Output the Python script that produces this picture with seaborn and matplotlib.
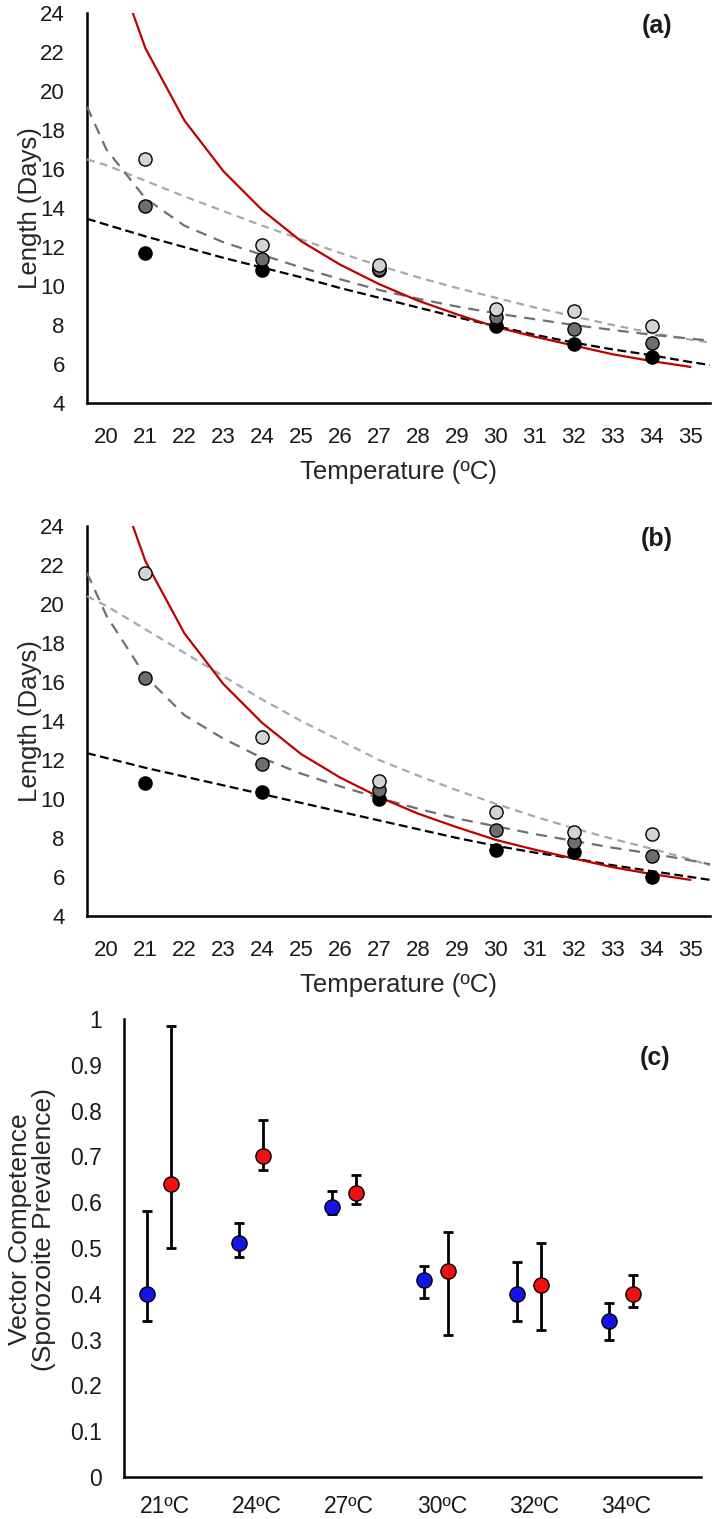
import matplotlib
matplotlib.use("Agg")
import matplotlib.pyplot as plt
import seaborn as sns

# measured temperatures (points)
temps = [21, 24, 27, 30, 32, 34]

# panel (a) observed lengths (days)
a_light = [16.5, 12.1, 11.1, 8.8, 8.7, 7.95]
a_dark = [14.1, 11.4, 10.9, 8.4, 7.8, 7.1]
a_black = [11.7, 10.8, 10.8, 7.95, 7.05, 6.35]

# panel (b) observed lengths (days)
b_light = [21.6, 13.2, 10.9, 9.35, 8.3, 8.2]
b_dark = [16.2, 11.8, 10.45, 8.4, 7.8, 7.1]
b_black = [10.8, 10.35, 10.0, 7.4, 7.3, 6.0]

# trend lines
fit_x = [19.5, 20, 21, 22, 23, 24, 25, 26, 27, 28, 29, 30, 31, 32, 33, 34, 35, 35.5]
a_fit_light = [16.5, 16.2, 15.4, 14.6, 13.85, 13.1, 12.4, 11.7, 11.05, 10.45, 9.9, 9.4, 8.9, 8.45, 8.0, 7.6, 7.25, 7.1]
a_fit_dark = [19.2, 17.0, 14.5, 13.1, 12.25, 11.6, 10.95, 10.35, 9.8, 9.35, 8.95, 8.6, 8.3, 8.0, 7.75, 7.5, 7.3, 7.2]
a_fit_black = [13.45, 13.15, 12.55, 12.0, 11.45, 10.95, 10.45, 9.9, 9.4, 8.9, 8.4, 7.95, 7.5, 7.1, 6.75, 6.45, 6.1, 5.95]
b_fit_light = [20.4, 19.9, 18.7, 17.5, 16.3, 15.1, 14.0, 13.0, 12.0, 11.2, 10.45, 9.75, 9.1, 8.5, 7.95, 7.45, 6.9, 6.6]
b_fit_dark = [21.6, 19.4, 16.3, 14.3, 13.1, 12.1, 11.3, 10.65, 10.05, 9.5, 9.0, 8.6, 8.2, 7.85, 7.5, 7.2, 6.85, 6.65]
b_fit_black = [12.35, 12.1, 11.6, 11.15, 10.7, 10.25, 9.8, 9.35, 8.9, 8.45, 8.0, 7.6, 7.25, 6.95, 6.6, 6.3, 6.0, 5.85]

# red reference curve
red_x = [20, 21, 22, 23, 24, 25, 26, 27, 28, 29, 30, 31, 32, 33, 34, 35]
red_days = [27.8, 22.2, 18.5, 15.9, 13.9, 12.3, 11.1, 10.1, 9.25, 8.55, 7.9, 7.4, 6.95, 6.5, 6.15, 5.85]

# panel (c) vector competence
c_labels = ["21ºC", "24ºC", "27ºC", "30ºC", "32ºC", "34ºC"]
blue_vc = [0.40, 0.51, 0.59, 0.43, 0.40, 0.34]
blue_lo = [0.34, 0.48, 0.575, 0.39, 0.34, 0.30]
blue_hi = [0.58, 0.555, 0.625, 0.46, 0.47, 0.38]
red_vc = [0.64, 0.70, 0.62, 0.45, 0.42, 0.40]
red_lo = [0.50, 0.67, 0.595, 0.31, 0.32, 0.37]
red_hi = [0.985, 0.78, 0.66, 0.535, 0.51, 0.44]

sns.set_style("white")
plt.rcParams["font.family"] = ["Liberation Sans", "DejaVu Sans"]
plt.rcParams["text.color"] = "#1a1a1a"
plt.rcParams["xtick.color"] = "#1a1a1a"
plt.rcParams["ytick.color"] = "#1a1a1a"

LIGHT = "#d4d4d4"
DARK = "#6e6e6e"
FIT_LIGHT = "#a8a8a8"
FIT_DARK = "#707070"
RED = "#c00000"

fig = plt.figure(figsize=(7.12, 15.19), dpi=100)
ax_a = fig.add_axes([0.1222, 0.7347, 0.875, 0.2566])
ax_b = fig.add_axes([0.1222, 0.3970, 0.875, 0.2567])
ax_c = fig.add_axes([0.1740, 0.0277, 0.8104, 0.3015])


def length_panel(ax, light, dark, black, f_light, f_dark, f_black, tag):
    for ys, col in [(black, "black"), (dark, DARK), (light, LIGHT)]:
        sns.scatterplot(x=temps, y=ys, color=col, edgecolor="black", linewidth=1.0,
                        s=90, ax=ax, zorder=5, clip_on=False)
    sns.lineplot(x=fit_x, y=f_light, color=FIT_LIGHT, lw=1.6, ax=ax,
                 linestyle=(0, (3.5, 2.5)), zorder=3)
    sns.lineplot(x=fit_x, y=f_dark, color=FIT_DARK, lw=1.6, ax=ax,
                 linestyle=(0, (5, 3.5)), zorder=3)
    sns.lineplot(x=fit_x, y=f_black, color="black", lw=1.6, ax=ax,
                 linestyle=(0, (4, 2)), zorder=3)
    sns.lineplot(x=red_x, y=red_days, color=RED, lw=1.6, ax=ax, zorder=4)

    ax.set_xlim(19.5, 35.5)
    ax.set_ylim(4, 24)
    ax.set_xticks(range(20, 36))
    ax.set_xticks([x + 0.5 for x in range(20, 36)], minor=True)
    ax.set_yticks(range(4, 25, 2))
    ax.tick_params(axis="both", which="major", length=0, labelsize=16, pad=16)
    ax.tick_params(axis="x", which="minor", direction="in", length=6, width=1.6,
                   color="black")
    ax.tick_params(axis="x", which="major", pad=17)
    for s in ["top", "right"]:
        ax.spines[s].set_visible(False)
    for s in ["left", "bottom"]:
        ax.spines[s].set_linewidth(1.8)
        ax.spines[s].set_color("black")
    ax.set_xlabel("Temperature (ºC)", fontsize=18.5, labelpad=9)
    ax.set_ylabel("Length (Days)", fontsize=18.5)
    ax.yaxis.set_label_coords(-0.072, 0.5)
    ax.text(0.915, 0.968, tag, transform=ax.transAxes, fontsize=18,
            fontweight="bold", ha="center", va="center")


length_panel(ax_a, a_light, a_dark, a_black, a_fit_light, a_fit_dark, a_fit_black, "(a)")
length_panel(ax_b, b_light, b_dark, b_black, b_fit_light, b_fit_dark, b_fit_black, "(b)")

# panel (c)
pos = list(range(len(c_labels)))
off = 0.13
bx = [p - off for p in pos]
rx = [p + off for p in pos]
ax_c.errorbar(bx, blue_vc,
              yerr=[[v - lo for v, lo in zip(blue_vc, blue_lo)],
                    [hi - v for v, hi in zip(blue_vc, blue_hi)]],
              fmt="none", ecolor="black", elinewidth=2, capsize=3.5, capthick=2, zorder=3)
ax_c.errorbar(rx, red_vc,
              yerr=[[v - lo for v, lo in zip(red_vc, red_lo)],
                    [hi - v for v, hi in zip(red_vc, red_hi)]],
              fmt="none", ecolor="black", elinewidth=2, capsize=3.5, capthick=2, zorder=3)
sns.scatterplot(x=bx, y=blue_vc, color="#1414e6", edgecolor="black", linewidth=1.0,
                s=120, ax=ax_c, zorder=5)
sns.scatterplot(x=rx, y=red_vc, color="#f01010", edgecolor="black", linewidth=1.0,
                s=120, ax=ax_c, zorder=5)
ax_c.set_xlim(-0.38, 5.866)
ax_c.set_ylim(0, 1)
ax_c.set_xticks([p + 0.06 for p in pos])
ax_c.set_xticklabels(c_labels)
ax_c.set_yticks([i / 10 for i in range(11)])
ax_c.set_yticklabels(["0", "0.1", "0.2", "0.3", "0.4", "0.5", "0.6", "0.7", "0.8", "0.9", "1"])
ax_c.tick_params(axis="both", length=0, labelsize=16.5, pad=16)
ax_c.tick_params(axis="x", pad=13)
for s in ["top", "right"]:
    ax_c.spines[s].set_visible(False)
for s in ["left", "bottom"]:
    ax_c.spines[s].set_linewidth(1.8)
    ax_c.spines[s].set_color("black")
ax_c.set_ylabel("Vector Competence\n(Sporozoite Prevalence)", fontsize=19, linespacing=1.0)
ax_c.yaxis.set_label_coords(-0.118, 0.54)
ax_c.text(0.92, 0.915, "(c)", transform=ax_c.transAxes, fontsize=18,
          fontweight="bold", ha="center", va="center")

fig.savefig("out.png", dpi=100)
